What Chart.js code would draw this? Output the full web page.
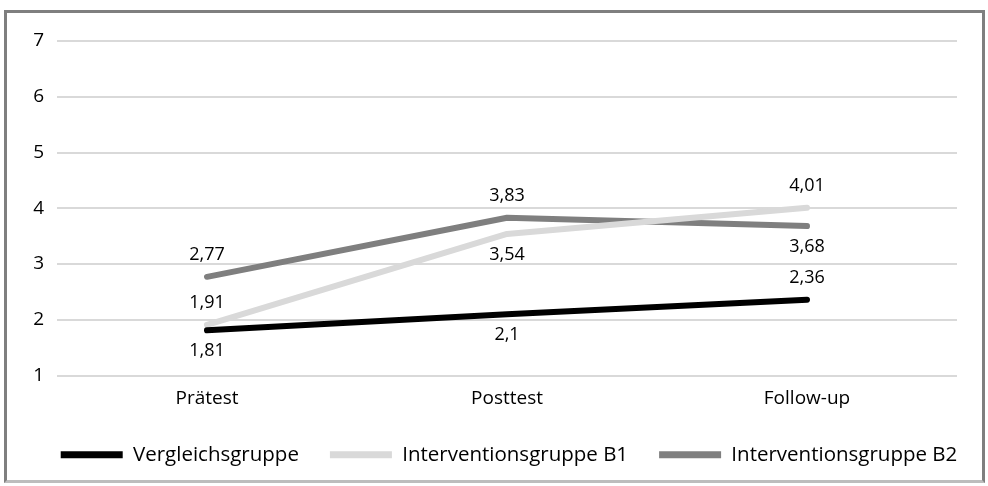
<!DOCTYPE html>
<html>
<head>
<meta charset="utf-8">
<script src="https://cdn.jsdelivr.net/npm/chart.js@4/dist/chart.umd.min.js"></script>
<style>
  html, body { margin: 0; padding: 0; background: #fff; }
  #frame { position: absolute; left: 4px; top: 10px; width: 981px; height: 473px; box-sizing: border-box;
           border: 3px solid #7f7f7f; border-bottom-color: #bdbdbd; }
  #wrap { position: absolute; left: 0; top: 0; width: 988px; height: 486px; }
</style>
</head>
<body>
<div id="frame"></div>
<div id="wrap"><canvas id="c" width="988" height="486"></canvas></div>
<script>
const categories = ['Prätest', 'Posttest', 'Follow-up'];
const seriesNames = ['Vergleichsgruppe', 'Interventionsgruppe B1', 'Interventionsgruppe B2'];
const vergleich = [1.81, 2.1, 2.36];
const gruppeB1 = [1.91, 3.54, 4.01];
const gruppeB2 = [2.77, 3.83, 3.68];
const yTicks = [1, 2, 3, 4, 5, 6, 7];

// where each value label sits relative to its point (style, not data)
const labelSide = [
  ['below', 'below', 'above'],
  ['above', 'below', 'above'],
  ['above', 'above', 'below']
];
const colors = ['#000000', '#d9d9d9', '#7f7f7f'];
const FONT = "'Open Sans', sans-serif";

const valueLabels = {
  id: 'valueLabels',
  afterDatasetsDraw(chart) {
    const ctx = chart.ctx;
    ctx.save();
    ctx.font = '18px ' + FONT;
    ctx.fillStyle = '#000';
    ctx.textAlign = 'center';
    ctx.textBaseline = 'middle';
    chart.data.datasets.forEach((ds, di) => {
      const meta = chart.getDatasetMeta(di);
      meta.data.forEach((pt, i) => {
        const side = labelSide[di][i];
        const dy = side === 'above' ? -22 : 21;
        ctx.fillText(String(ds.data[i]).replace('.', ','), pt.x, pt.y + dy);
      });
    });
    ctx.restore();
  }
};

// shift the legend so it is centred like the reference
const legendShift = {
  id: 'legendShift',
  afterLayout(chart) {
    if (chart.legend) { chart.legend.left += 15; chart.legend.right += 15; }
  }
};

const seriesData = [vergleich, gruppeB1, gruppeB2];

new Chart(document.getElementById('c'), {
  type: 'line',
  data: {
    labels: categories,
    datasets: seriesData.map((d, i) => ({
      label: seriesNames[i],
      data: d,
      borderColor: colors[i],
      backgroundColor: colors[i],
      borderWidth: 6,
      borderCapStyle: 'round',
      borderJoinStyle: 'round',
      pointRadius: 0,
      tension: 0,
      fill: false
    }))
  },
  options: {
    responsive: false,
    animation: false,
    layout: { padding: { left: 0, right: 0, top: 41, bottom: 11 } },
    scales: {
      x: {
        offset: true,
        grid: { display: false, drawTicks: false },
        border: { display: false },
        ticks: { font: { family: FONT, size: 19 }, color: '#000', padding: 12 },
        afterFit(s) { s.height = 38; }
      },
      y: {
        min: 1, max: 7,
        afterBuildTicks(s) { s.ticks = yTicks.map(v => ({ value: v })); },
        grid: { color: '#d9d9d9', lineWidth: 2, drawTicks: false },
        border: { display: false },
        ticks: { font: { family: FONT, size: 19 }, color: '#000', padding: 13 },
        afterFit(s) { s.width = 57; }
      },
      yRight: {
        type: 'linear',
        position: 'right',
        min: 1, max: 7,
        grid: { display: false, drawTicks: false },
        border: { display: false },
        ticks: { display: false },
        afterFit(s) { s.width = 31; }
      }
    },
    plugins: {
      legend: {
        position: 'bottom',
        labels: {
          font: { family: FONT, size: 20.5 },
          color: '#000',
          boxWidth: 62,
          boxHeight: 7,
          useBorderRadius: true,
          borderRadius: 3.5,
          padding: 31,
          generateLabels(chart) {
            return chart.data.datasets.map((ds, i) => ({
              text: ds.label,
              fillStyle: ds.borderColor,
              strokeStyle: ds.borderColor,
              lineWidth: 0,
              datasetIndex: i,
              hidden: false
            }));
          }
        }
      },
      tooltip: { enabled: false }
    }
  },
  plugins: [valueLabels, legendShift]
});
</script>
</body>
</html>
